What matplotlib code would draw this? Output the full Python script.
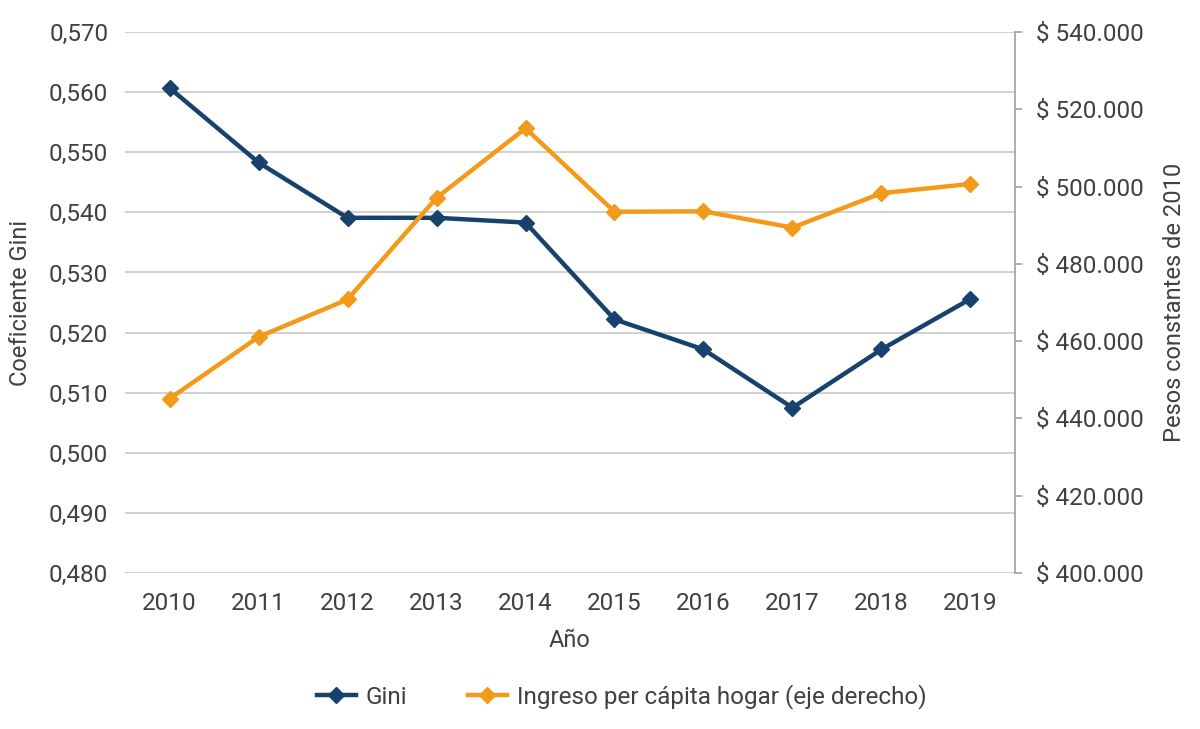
import matplotlib
matplotlib.use("Agg")
import matplotlib.pyplot as plt
from matplotlib.ticker import FuncFormatter, MultipleLocator
from matplotlib.lines import Line2D

years = ["2010", "2011", "2012", "2013", "2014", "2015", "2016", "2017", "2018", "2019"]
gini = [0.5607, 0.5483, 0.5391, 0.5391, 0.5383, 0.5222, 0.5172, 0.5075, 0.5172, 0.5256]
ingreso = [445100, 461100, 470800, 497100, 515100, 493500, 493600, 489400, 498300, 500700]

BLUE = "#17426E"
ORANGE = "#F39A1B"
TXT = "#404040"
GRID = "#C8C8C8"

plt.rcParams["font.family"] = ["Roboto", "DejaVu Sans"]

fig = plt.figure(figsize=(12, 7.29), dpi=100)
ax = fig.add_axes([0.1042, 0.214, 0.7416, 0.742])
ax2 = ax.twinx()

x = list(range(len(years)))
ax.plot(x, gini, color=BLUE, lw=3.2, marker="D", ms=8.5, zorder=3)
ax2.plot(x, ingreso, color=ORANGE, lw=3.2, marker="D", ms=8.5, zorder=3)

ax.set_xlim(-0.5, 9.5)
ax.set_ylim(0.48, 0.57)
ax.yaxis.set_major_locator(MultipleLocator(0.01))
ax.yaxis.set_major_formatter(FuncFormatter(lambda v, p: f"{v:.3f}".replace(".", ",")))
ax2.set_ylim(400000, 540000)
ax2.yaxis.set_major_locator(MultipleLocator(20000))
ax2.yaxis.set_major_formatter(FuncFormatter(lambda v, p: "$ " + f"{int(round(v)):,}".replace(",", ".")))

ax.set_xticks(x)
ax.set_xticklabels(years)
ax.grid(axis="y", color=GRID, lw=1.2)
ax.set_axisbelow(True)

for a in (ax, ax2):
    for s in ("top", "left", "bottom", "right"):
        a.spines[s].set_visible(False)
ax2.spines["right"].set_visible(True)
ax2.spines["right"].set_color("#A0A0A0")
ax2.spines["right"].set_linewidth(1.2)

ax.tick_params(axis="y", length=0, labelsize=17.5, labelcolor=TXT, pad=12)
ax.tick_params(axis="x", length=0, labelsize=17.5, labelcolor=TXT, pad=14)
ax2.tick_params(axis="y", length=5, width=1.2, color="#A0A0A0", labelsize=17.5, labelcolor=TXT, pad=10)

ax.set_xlabel("Año", fontsize=17, color=TXT, labelpad=10)
ax.set_ylabel("Coeficiente Gini", fontsize=17, color=TXT, labelpad=12)
ax2.set_ylabel("Pesos constantes de 2010", fontsize=17, color=TXT, labelpad=14, rotation=90)

handles = [
    Line2D([], [], color=BLUE, lw=3.2, marker="D", ms=8.5),
    Line2D([], [], color=ORANGE, lw=3.2, marker="D", ms=8.5),
]
fig.legend(handles, ["Gini", "Ingreso per cápita hogar (eje derecho)"],
           loc="center", bbox_to_anchor=(0.518, 0.044), ncol=2, frameon=False,
           fontsize=17.5, labelcolor=TXT, handlelength=1.6, handletextpad=0.4,
           columnspacing=2.5)

fig.savefig("out.png", dpi=100)
